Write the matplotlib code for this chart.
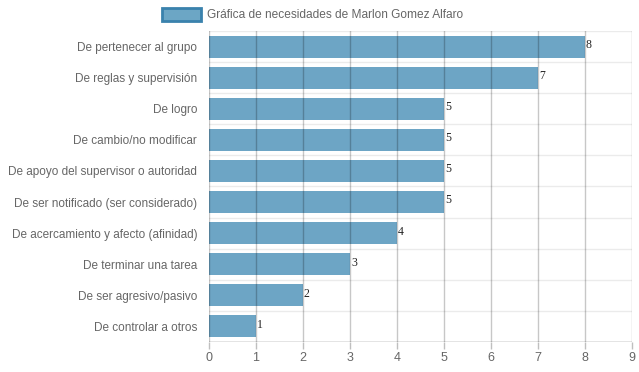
import matplotlib
matplotlib.use("Agg")
import matplotlib.pyplot as plt
from matplotlib.patches import Rectangle

categories = ["De pertenecer al grupo", "De reglas y supervisión", "De logro",
              "De cambio/no modificar", "De apoyo del supervisor o autoridad",
              "De ser notificado (ser considerado)", "De acercamiento y afecto (afinidad)",
              "De terminar una tarea", "De ser agresivo/pasivo", "De controlar a otros"]
values = [8, 7, 5, 5, 5, 5, 4, 3, 2, 1]
xticks = list(range(0, 10))
legend_label = "Gráfica de necesidades de Marlon Gomez Alfaro"

plt.rcParams['font.family'] = ['Liberation Sans', 'DejaVu Sans']
fig = plt.figure(figsize=(6.39, 3.72), dpi=100)
ax = fig.add_axes([209/639, 1 - 342/372, (632-209)/639, (342-31)/372])

bar_color = (60/255, 135/255, 178/255, 0.75)
n = len(categories)
ypos = list(range(n))
ax.barh(ypos, values, height=0.71, color=bar_color, zorder=2, linewidth=0)
ax.set_ylim(n - 0.5, -0.5)
ax.set_xlim(0, 9)
ax.set_xticks(xticks)
ax.set_yticks(ypos)
ax.set_yticklabels(categories)

# vertical grid
for x in xticks:
    ax.axvline(x, color=(0, 0, 0, 0.22), lw=1, zorder=3)
# horizontal grid at boundaries
for i in range(n + 1):
    ax.axhline(i - 0.5, color=(0, 0, 0, 0.08), lw=1, zorder=1)

for s in ax.spines.values():
    s.set_visible(False)
ax.axhline(n - 0.5, color=(0, 0, 0, 0.45), lw=1, zorder=4)

ax.tick_params(axis='x', colors='#666666', labelsize=9, length=5, width=1, pad=2,
               color=(0, 0, 0, 0.25))
ax.tick_params(axis='y', colors='#666666', labelsize=8.5, length=0, pad=8.5)
for lbl in ax.get_xticklabels() + ax.get_yticklabels():
    lbl.set_color('#666666')

for i, v in enumerate(values):
    ax.text(v + 0.02, i - 0.05, str(v), fontsize=8.5, family='Liberation Serif',
            ha='left', va='center', color='#222222', zorder=5)

# legend
fig.patches.append(Rectangle((162/639, 1 - 21/372), 39/639, 13/372, transform=fig.transFigure,
                             facecolor=(108/255, 166/255, 197/255), edgecolor='#3a82ad', lw=2))
fig.text(207/639, 1 - 14.5/372, legend_label, fontsize=8.6, color='#666666', ha='left', va='center')

fig.savefig("out.png", dpi=100)
